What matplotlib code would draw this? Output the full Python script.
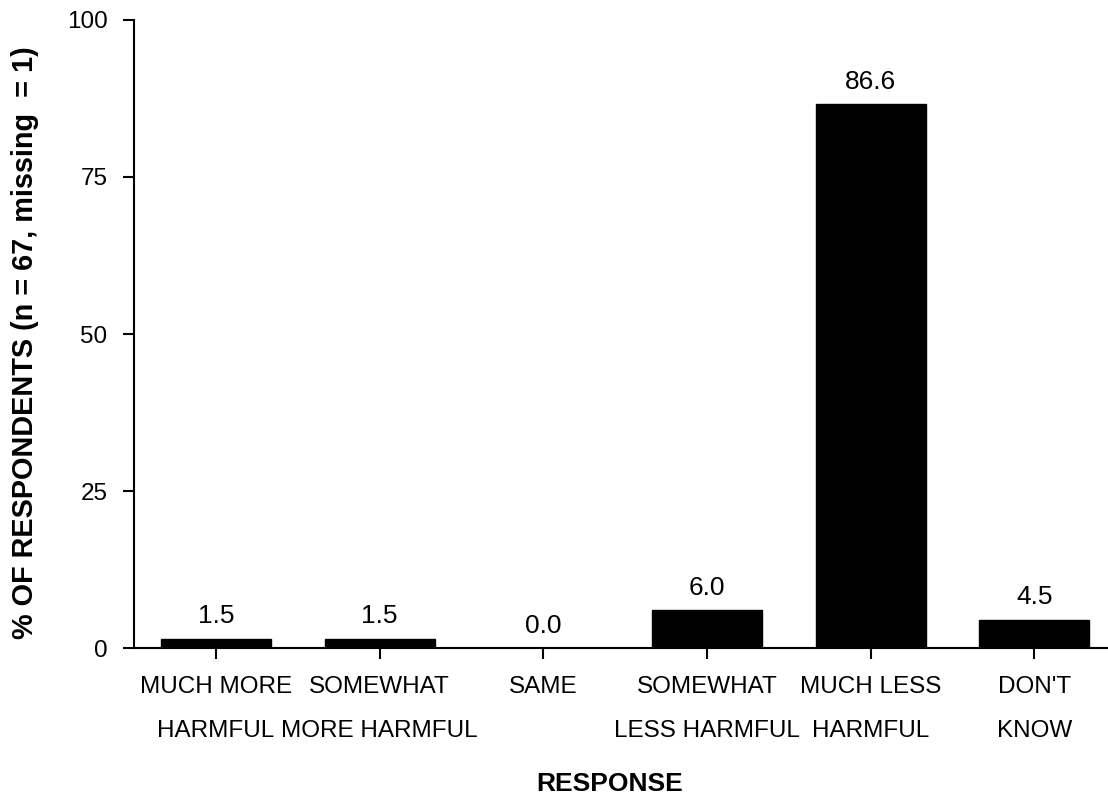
import matplotlib
matplotlib.use("Agg")
import matplotlib.pyplot as plt
import numpy as np

categories = [
    "MUCH MORE\nHARMFUL",
    "SOMEWHAT\nMORE HARMFUL",
    "SAME",
    "SOMEWHAT\nLESS HARMFUL",
    "MUCH LESS\nHARMFUL",
    "DON'T\nKNOW",
]
percentages = [1.5, 1.5, 0.0, 6.0, 86.6, 4.5]
y_ticks = [0, 25, 50, 75, 100]

plt.rcParams["font.family"] = ["Liberation Sans", "DejaVu Sans"]

fig = plt.figure(figsize=(11.08, 7.96), dpi=100)
ax = fig.add_axes([0.1209, 0.1859, 0.8791, 0.789])

x = np.arange(len(categories))
ax.bar(x, percentages, width=0.672, color="black", edgecolor="black")

for xi, v in zip(x, percentages):
    ax.annotate(f"{v:.1f}", (xi, v), xytext=(0, 7.5), textcoords="offset points",
                ha="center", va="bottom", fontsize=19)

ax.set_xlim(-0.5, 5.45)
ax.set_ylim(0, 100)
ax.set_yticks(y_ticks)
ax.set_xticks(x)
ax.set_xticklabels(categories, fontsize=17.5, linespacing=2.33)
ax.tick_params(axis="y", labelsize=17.5, direction="out", length=8, width=1.5, pad=11)
ax.tick_params(axis="x", direction="out", length=8, width=1.5, pad=12)

for side in ("top", "right"):
    ax.spines[side].set_visible(False)
for side in ("left", "bottom"):
    ax.spines[side].set_linewidth(1.5)

ax.set_xlabel("RESPONSE", fontsize=19, fontweight="bold")
ax.xaxis.set_label_coords(0.488, -0.197)
ax.set_ylabel("% OF RESPONDENTS (n = 67, missing  = 1)", fontsize=20.8,
              fontweight="bold")
ax.yaxis.set_label_coords(-0.0975, 0.4865)

fig.savefig("out.png", dpi=100)
